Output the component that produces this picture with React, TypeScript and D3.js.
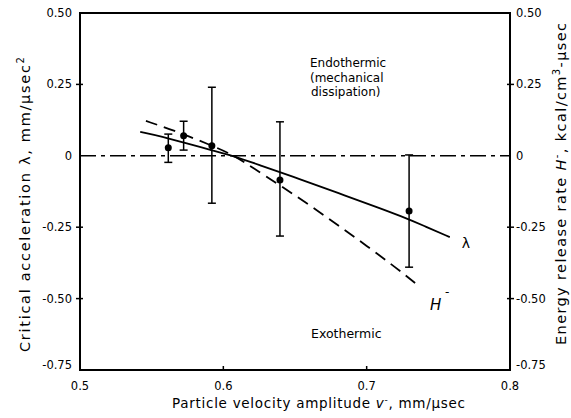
import React from 'react';
import * as d3 from 'd3';

// measured points with error bars: velocity amplitude, lambda, upper, lower
const pointX = [0.5616, 0.5723, 0.592, 0.6395, 0.7296];
const pointY = [0.028, 0.07, 0.035, -0.085, -0.193];
const pointHi = [0.076, 0.121, 0.24, 0.119, 0.003];
const pointLo = [-0.023, 0.02, -0.166, -0.281, -0.39];

// solid lambda curve
const lambdaX = [0.542, 0.557, 0.575, 0.59, 0.607, 0.625, 0.6535, 0.68, 0.709, 0.7233, 0.74, 0.758];
const lambdaY = [0.084, 0.068, 0.043, 0.022, 0.0, -0.032, -0.082, -0.13, -0.183, -0.21, -0.245, -0.285];

// dashed H- curve
const hX = [0.546, 0.565, 0.59, 0.607, 0.62, 0.64, 0.66, 0.68, 0.7, 0.72, 0.737];
const hY = [0.122, 0.09, 0.04, 0.003, -0.04, -0.105, -0.172, -0.243, -0.315, -0.39, -0.458];

const xTicks = [0.5, 0.6, 0.7, 0.8];
const xTickLabels = ['0.5', '0.6', '0.7', '0.8'];
const yTicks = [0.5, 0.25, 0, -0.25, -0.5, -0.75];
const yTickLabels = ['0.50', '0.25', '0', '-0.25', '-0.50', '-0.75'];

const W = 571;
const H = 418;
const FONT = '"DejaVu Sans", sans-serif';

const App: React.FC = () => {
  const x = d3.scaleLinear().domain([0.5, 0.8]).range([80, 510]);
  const y = d3.scaleLinear().domain([0.5, -0.75]).range([13, 370]);

  const line = d3.line<[number, number]>()
    .x(d => x(d[0]))
    .y(d => y(d[1]))
    .curve(d3.curveBasis);

  const lambdaPath = line(lambdaX.map((v, i) => [v, lambdaY[i]] as [number, number])) || '';
  const hPath = line(hX.map((v, i) => [v, hY[i]] as [number, number])) || '';

  const [x0, x1] = x.range();
  const [y0, y1] = y.range();

  return (
    <svg width={W} height={H} style={{ position: 'absolute', left: 0, top: 0, background: '#fff' }}
      fontFamily={FONT}>
      {/* frame */}
      <rect x={x0} y={y0} width={x1 - x0} height={y1 - y0} fill="none" stroke="#000" strokeWidth={2} />

      {/* zero line */}
      <line x1={x0} x2={x1} y1={y(0)} y2={y(0)} stroke="#000" strokeWidth={1.6}
        strokeDasharray="16,5,4,5" />

      {/* y ticks on both sides */}
      {yTicks.map((t, i) => (
        <g key={'yt' + i}>
          {t < 0.5 && t > -0.75 && t !== 0 && (
            <>
              <line x1={x0 - 4} x2={x0 + 3} y1={y(t)} y2={y(t)} stroke="#000" strokeWidth={1.5} />
              <line x1={x1 - 3} x2={x1 + 4} y1={y(t)} y2={y(t)} stroke="#000" strokeWidth={1.5} />
            </>
          )}
          <text x={72} y={y(t) + (t === -0.75 ? -1 : 4)} textAnchor="end" fontSize={11.5}>
            {yTickLabels[i]}
          </text>
          <text x={516} y={y(t) + (t === -0.75 ? -1 : 4)} textAnchor="start" fontSize={11.5}>
            {yTickLabels[i]}
          </text>
        </g>
      ))}

      {/* x ticks */}
      {xTicks.map((t, i) => (
        <g key={'xt' + i}>
          {t > 0.5 && t < 0.8 && (
            <line x1={x(t)} x2={x(t)} y1={y1} y2={y1 - 4} stroke="#000" strokeWidth={1.5} />
          )}
          <text x={x(t)} y={390} textAnchor="middle" fontSize={11.5}>{xTickLabels[i]}</text>
        </g>
      ))}

      {/* curves */}
      <path d={lambdaPath} fill="none" stroke="#000" strokeWidth={1.8} />
      <path d={hPath} fill="none" stroke="#000" strokeWidth={1.8} strokeDasharray="12,7" />

      {/* error bars and points */}
      {pointX.map((v, i) => (
        <g key={'p' + i}>
          <line x1={x(v)} x2={x(v)} y1={y(pointHi[i])} y2={y(pointLo[i])} stroke="#000" strokeWidth={1.5} />
          <line x1={x(v) - 4} x2={x(v) + 4} y1={y(pointHi[i])} y2={y(pointHi[i])} stroke="#000" strokeWidth={1.5} />
          <line x1={x(v) - 4} x2={x(v) + 4} y1={y(pointLo[i])} y2={y(pointLo[i])} stroke="#000" strokeWidth={1.5} />
          <circle cx={x(v)} cy={y(pointY[i])} r={3.5} fill="#000" />
        </g>
      ))}

      {/* annotations */}
      <text x={310} y={67} fontSize={12}>Endothermic</text>
      <text x={310} y={82} fontSize={12}>(mechanical</text>
      <text x={311} y={96} fontSize={12}>dissipation)</text>
      <text x={311} y={338} fontSize={12.5}>Exothermic</text>
      <text x={466} y={248} fontSize={14} textAnchor="middle">λ</text>
      <text x={430} y={310} fontSize={15} fontStyle="italic">H</text>
      <text x={445} y={296} fontSize={12}>-</text>

      {/* axis titles */}
      <text x={318.5} y={408} textAnchor="middle" fontSize={13.5} textLength={293} lengthAdjust="spacing">
        Particle velocity amplitude <tspan fontStyle="italic">v</tspan><tspan dy={-5} fontSize={9}>-</tspan><tspan dy={5}>, mm/μsec</tspan>
      </text>
      <text transform={`translate(30,204.5) rotate(-90)`} textAnchor="middle" fontSize={14.5}
        textLength={295} lengthAdjust="spacing">
        Critical acceleration λ, mm/μsec<tspan dy={-6} fontSize={10}>2</tspan>
      </text>
      <text transform={`translate(566,184) rotate(-90)`} textAnchor="middle" fontSize={14.5}
        textLength={322} lengthAdjust="spacing">
        Energy release rate <tspan fontStyle="italic">H</tspan><tspan dy={-6} fontSize={10}>-</tspan><tspan dy={6}>, kcal/cm</tspan><tspan dy={-6} fontSize={10}>3</tspan><tspan dy={6}>-μsec</tspan>
      </text>
    </svg>
  );
};

export default App;
